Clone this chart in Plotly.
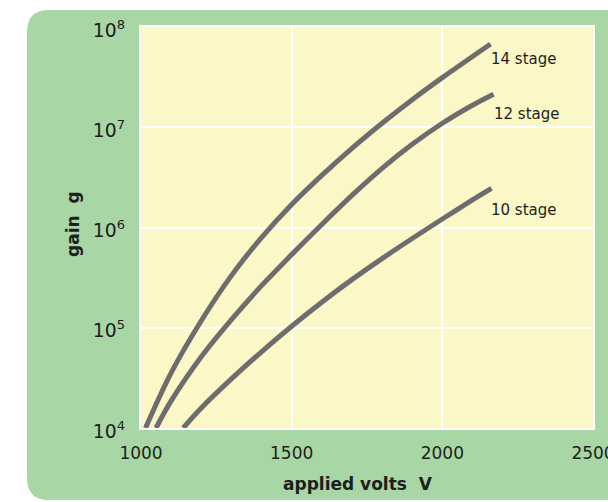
import plotly.graph_objects as go

# ---- data ----
volts_14 = [1015, 1100, 1200, 1300, 1400, 1500, 1600, 1700, 1800, 1900, 2000, 2100, 2160]
log_gain_14 = [4.0, 4.55, 5.07, 5.52, 5.90, 6.23, 6.52, 6.79, 7.04, 7.275, 7.495, 7.705, 7.83]

volts_12 = [1050, 1100, 1200, 1300, 1400, 1500, 1600, 1700, 1800, 1900, 2000, 2100, 2170]
log_gain_12 = [4.0, 4.27, 4.71, 5.08, 5.42, 5.73, 6.03, 6.32, 6.59, 6.83, 7.04, 7.22, 7.33]

volts_10 = [1140, 1200, 1300, 1400, 1500, 1600, 1700, 1800, 1900, 2000, 2100, 2163]
log_gain_10 = [4.0, 4.20, 4.49, 4.76, 5.015, 5.255, 5.48, 5.69, 5.89, 6.085, 6.275, 6.39]

series_names = ["14 stage", "12 stage", "10 stage"]
label_shifts = [-15, -20, -22]

x_tick_vals = [1000, 1500, 2000, 2500]

# ---- style ----
W, H = 608, 502
L, R, T, B = 141, 15, 27, 74
GREEN = "#a9d6a5"
YELLOW = "#fbf7c6"
LINE = "#6d6d6d"
FONT = "DejaVu Sans"
TXT = "#1e1e1e"

fig = go.Figure()
for xs, ls, name, ys in zip([volts_14, volts_12, volts_10],
                            [log_gain_14, log_gain_12, log_gain_10],
                            series_names, label_shifts):
    vals = [10 ** v for v in ls]
    fig.add_trace(go.Scatter(x=xs, y=vals, mode="lines", name=name,
                             line=dict(color=LINE, width=5, shape="spline", smoothing=1.0),
                             showlegend=False, hoverinfo="skip"))
    fig.add_annotation(x=xs[-1], y=ls[-1], text=name, showarrow=False,
                       xanchor="left", yanchor="middle", xshift=-2, yshift=ys,
                       font=dict(family=FONT, size=15, color=TXT))

# rounded green panel + yellow plot area behind the chart (pixel -> paper conversion)
pw, ph = W - L - R, H - T - B
def px(x):
    return (x - L) / pw
def py(y):
    return (H - B - y) / ph
x0, x1, y0, y1, r = 27, 660, 10, 500, 22
path = (f"M {px(x0 + r)} {py(y0)} L {px(x1)} {py(y0)} L {px(x1)} {py(y1)} "
        f"L {px(x0 + r)} {py(y1)} Q {px(x0)} {py(y1)} {px(x0)} {py(y1 - r)} "
        f"L {px(x0)} {py(y0 + r)} Q {px(x0)} {py(y0)} {px(x0 + r)} {py(y0)} Z")
fig.add_shape(type="path", xref="paper", yref="paper", path=path,
              fillcolor=GREEN, line=dict(width=0), layer="below")
fig.add_shape(type="rect", xref="paper", yref="paper", x0=0, x1=1, y0=0, y1=1,
              fillcolor=YELLOW, line=dict(width=0), layer="below")

# axis titles as annotations for exact placement
fig.add_annotation(xref="paper", yref="paper", x=px(358), y=py(484),
                   text="<b>applied volts\u00a0 V</b>", showarrow=False,
                   xanchor="center", yanchor="middle",
                   font=dict(family=FONT, size=17, color=TXT))
fig.add_annotation(xref="paper", yref="paper", x=px(73), y=py(224),
                   text="<b>gain\u00a0 g</b>", showarrow=False, textangle=-90,
                   xanchor="center", yanchor="middle",
                   font=dict(family=FONT, size=17, color=TXT))

fig.update_layout(
    width=W, height=H,
    margin=dict(l=L, r=R, t=T, b=B, pad=0, autoexpand=False),
    paper_bgcolor="white", plot_bgcolor=YELLOW,
    font=dict(family=FONT, size=16, color=TXT),
    xaxis=dict(range=[1000, 2500], tickvals=x_tick_vals, ticks="",
               showgrid=True, gridcolor="white", gridwidth=2,
               showline=True, linecolor="white", linewidth=2, mirror=True,
               zeroline=False, ticklabeloverflow="allow", automargin=False,
               ticklabelstandoff=9,
               tickfont=dict(family=FONT, size=17, color=TXT)),
    yaxis=dict(type="log", range=[4, 8], dtick=1, exponentformat="power",
               ticks="", showgrid=True, gridcolor="white", gridwidth=2,
               showline=True, linecolor="white", linewidth=2, mirror=True,
               zeroline=False, ticklabelshift=3, ticklabelstandoff=11,
               automargin=False,
               tickfont=dict(family=FONT, size=15, color=TXT)),
)

fig.write_html("out.html")
